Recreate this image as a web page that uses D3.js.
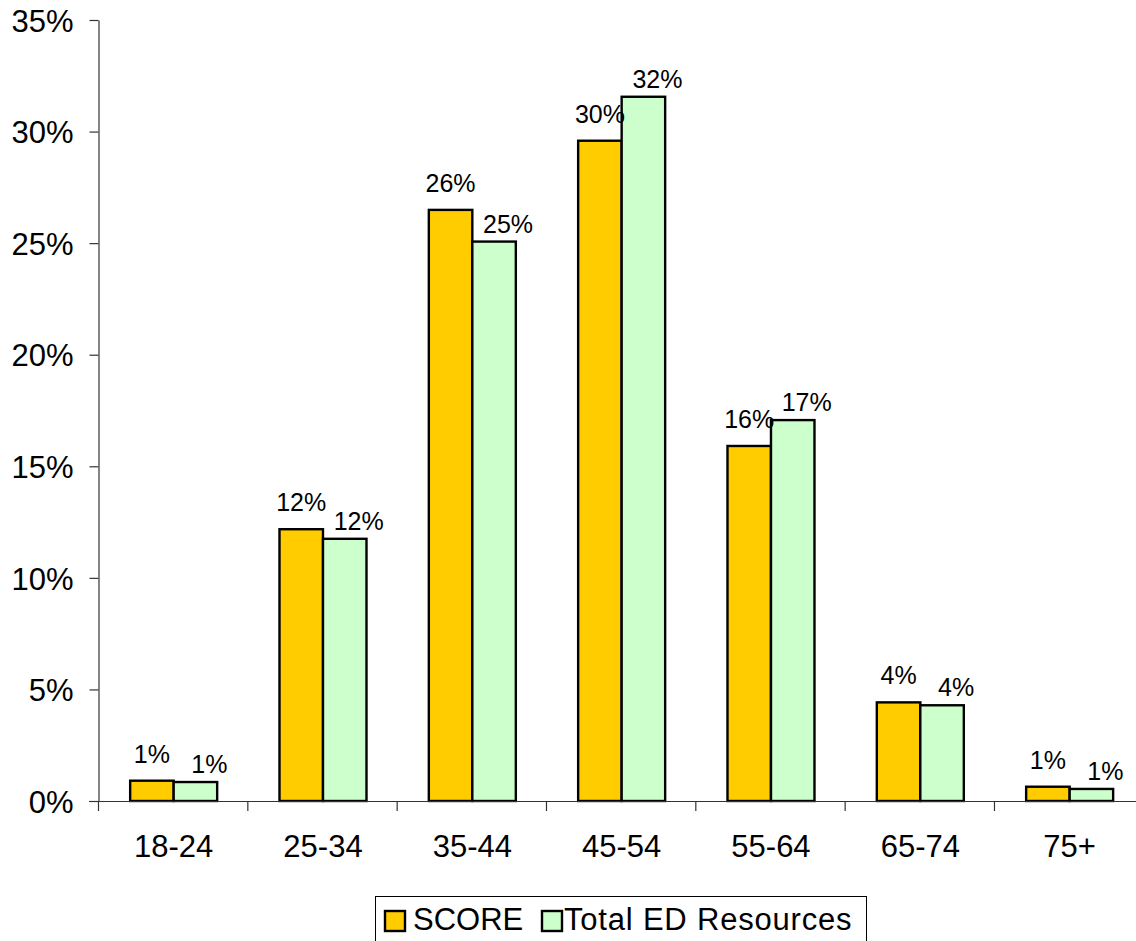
<!DOCTYPE html>
<html>
<head>
<meta charset="utf-8">
<script src="https://cdn.jsdelivr.net/npm/d3@7"></script>
<style>
  html, body { margin: 0; padding: 0; background: #fff; overflow: hidden; }
  svg { display: block; font-family: "Liberation Sans", Arial, sans-serif; }
</style>
</head>
<body>
<svg id="chart" width="1136" height="941"></svg>
<script>
const categories = ["18-24", "25-34", "35-44", "45-54", "55-64", "65-74", "75+"];
const seriesNames = ["SCORE", "Total ED Resources"];
const scoreValues = [0.91, 12.18, 26.49, 29.59, 15.91, 4.42, 0.64];
const totalEdValues = [0.85, 11.75, 25.07, 31.56, 17.07, 4.29, 0.54];
const yTickValues = [0, 5, 10, 15, 20, 25, 30, 35];
const seriesColors = ["#FFCC00", "#CCFFCC"];

const svg = d3.select("#chart");
const x0 = 99, step = 149.33;
const x = d3.scaleBand().domain(categories).range([x0, x0 + step * categories.length]).padding(0);
const xs = d3.scaleBand().domain(seriesNames).range([0, x.bandwidth()]).paddingInner(0).paddingOuter(0.7165);
const y = d3.scaleLinear().domain([0, 35]).range([801, 20]);

const series = [scoreValues, totalEdValues];

// Y axis
const yAxis = d3.axisLeft(y).tickValues(yTickValues).tickFormat(d => d + "%").tickSize(9).tickSizeOuter(0);
const gy = svg.append("g").attr("transform", `translate(${x0 - 0.5},0)`).call(yAxis);
gy.select(".domain").attr("stroke", "#333").attr("stroke-width", 1.2);
gy.selectAll(".tick line").attr("stroke", "#333").attr("stroke-width", 1.2);
gy.selectAll(".tick text").attr("font-size", 31).attr("fill", "#000")
  .attr("font-family", "Liberation Sans, Arial, sans-serif")
  .attr("x", -25).attr("dy", "0.36em");

// Bars
categories.forEach((c, i) => {
  series.forEach((vals, s) => {
    const bx = x(c) + xs(seriesNames[s]);
    svg.append("rect")
      .attr("x", bx).attr("y", y(vals[i]))
      .attr("width", xs.bandwidth()).attr("height", y(0) - y(vals[i]))
      .attr("fill", seriesColors[s]).attr("stroke", "#000").attr("stroke-width", 2.4);
  });
});

// X axis line and ticks
svg.append("line").attr("x1", x0 - 10).attr("x2", 1136).attr("y1", y(0) + 0.5).attr("y2", y(0) + 0.5)
  .attr("stroke", "#333").attr("stroke-width", 1.2);
categories.forEach(c => {
  svg.append("line").attr("x1", x(c) - 0.5).attr("x2", x(c) - 0.5).attr("y1", y(0)).attr("y2", y(0) + 10)
    .attr("stroke", "#333").attr("stroke-width", 1.2);
  svg.append("text").attr("x", x(c) + x.bandwidth() / 2).attr("y", y(0) + 56)
    .attr("text-anchor", "middle").attr("font-size", 31).attr("fill", "#000").text(c);
});

// Data labels
categories.forEach((c, i) => {
  const v0 = scoreValues[i];
  svg.append("text")
    .attr("x", x(c) + xs("SCORE") + xs.bandwidth() / 2)
    .attr("y", y(v0) - 18)
    .attr("text-anchor", "middle").attr("font-size", 25).attr("fill", "#000")
    .text(Math.round(v0) + "%");
  const v1 = totalEdValues[i];
  svg.append("text")
    .attr("x", x(c) + xs("Total ED Resources") + xs.bandwidth() / 2 + 14)
    .attr("y", y(v1) - 9)
    .attr("text-anchor", "middle").attr("font-size", 25).attr("fill", "#000")
    .text(Math.round(v1) + "%");
});

// Legend
const lg = svg.append("g");
lg.append("rect").attr("x", 375.5).attr("y", 896.5).attr("width", 491).attr("height", 60)
  .attr("fill", "#fff").attr("stroke", "#000").attr("stroke-width", 1);
const legendItems = [{ name: seriesNames[0], sx: 385, tx: 413, ls: 0 }, { name: seriesNames[1], sx: 542, tx: 564, ls: 0.8 }];
legendItems.forEach((it, k) => {
  lg.append("rect").attr("x", it.sx).attr("y", 911).attr("width", 20).attr("height", 20)
    .attr("fill", seriesColors[k]).attr("stroke", "#000").attr("stroke-width", 2.4);
  lg.append("text").attr("x", it.tx).attr("y", 930).attr("font-size", 31).attr("fill", "#000")
    .attr("letter-spacing", it.ls).text(it.name);
});
</script>
</body>
</html>
